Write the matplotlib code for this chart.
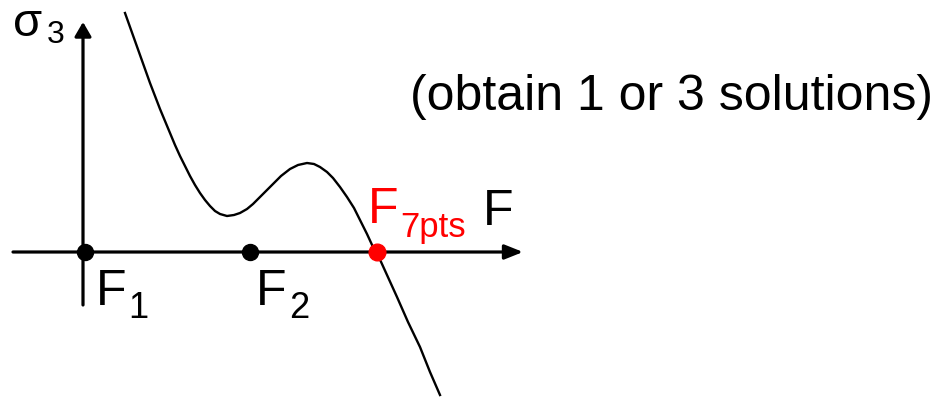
import matplotlib
matplotlib.use('Agg')
import matplotlib.pyplot as plt

plt.rcParams['font.family'] = ['Liberation Sans', 'DejaVu Sans']

# curve (F along x, sigma_3 along y)
curve_F = [0.40, 0.45, 0.50, 0.55, 0.60, 0.65, 0.70, 0.75, 0.80, 0.85,
           0.90, 0.95, 1.00, 1.05, 1.10, 1.15, 1.20, 1.25, 1.30, 1.35,
           1.42, 1.49, 1.55, 1.62, 1.68, 1.75, 1.82, 1.88, 1.96, 2.05,
           2.13, 2.22, 2.29, 2.35, 2.42, 2.48, 2.55, 2.62, 2.69, 2.75,
           2.82, 2.88, 2.92, 3.02, 3.12, 3.23, 3.35, 3.45, 3.55]
curve_s = [2.39, 2.25, 2.11, 1.97, 1.83, 1.69, 1.56, 1.43, 1.31, 1.19,
           1.07, 0.96, 0.86, 0.76, 0.67, 0.59, 0.52, 0.46, 0.41, 0.38,
           0.36, 0.37, 0.39, 0.43, 0.48, 0.55, 0.62, 0.68, 0.76, 0.83,
           0.87, 0.89, 0.88, 0.85, 0.80, 0.74, 0.65, 0.55, 0.44, 0.32,
           0.18, 0.05, -0.01, -0.23, -0.45, -0.70, -0.95, -1.20, -1.43]

# roots
F1 = 0.0
F2 = 1.65
F7pts = 2.92

fig = plt.figure(figsize=(9.4, 3.97), dpi=100)
ax = fig.add_axes([0, 0, 1, 1])
ax.set_xlim(-0.85, 8.55)
ax.set_ylim(-1.45, 2.52)
ax.axis('off')

# axes with arrow heads
ax.annotate('', xy=(4.38, 0), xytext=(-0.72, 0),
            arrowprops=dict(arrowstyle='-|>,head_length=0.55,head_width=0.22',
                            mutation_scale=20, lw=2.3, color='black',
                            shrinkA=0, shrinkB=0))
ax.annotate('', xy=(-0.02, 2.30), xytext=(-0.02, -0.53),
            arrowprops=dict(arrowstyle='-|>,head_length=0.43,head_width=0.25',
                            mutation_scale=20, lw=2.3, color='black',
                            shrinkA=0, shrinkB=0))

ax.plot(curve_F, curve_s, color='black', lw=1.7, solid_joinstyle='round')

ax.plot([F1, F2], [0, 0], 'o', color='black', markersize=11.5, zorder=5)
ax.plot([F7pts], [0], 'o', color='#ff0000', markersize=12, zorder=5)

# labels
ax.text(-0.72, 2.16, '\u03c3', fontsize=34, ha='left', va='baseline')
ax.text(-0.38, 2.09, '3', fontsize=23, ha='left', va='baseline')

ax.text(0.11, -0.53, 'F', fontsize=36, ha='left', va='baseline')
ax.text(0.43, -0.66, '1', fontsize=26, ha='left', va='baseline')
ax.text(1.71, -0.53, 'F', fontsize=36, ha='left', va='baseline')
ax.text(2.04, -0.66, '2', fontsize=26, ha='left', va='baseline')

ax.text(2.83, 0.29, 'F', fontsize=36, color='#ff0000', ha='left', va='baseline')
ax.text(3.15, 0.15, '7pts', fontsize=25, color='#ff0000', ha='left', va='baseline')
ax.text(3.98, 0.27, 'F', fontsize=36, ha='left', va='baseline')

ax.text(3.25, 1.42, '(obtain 1 or 3 solutions)', fontsize=36, ha='left', va='baseline')

plt.savefig('out.png', dpi=100)
